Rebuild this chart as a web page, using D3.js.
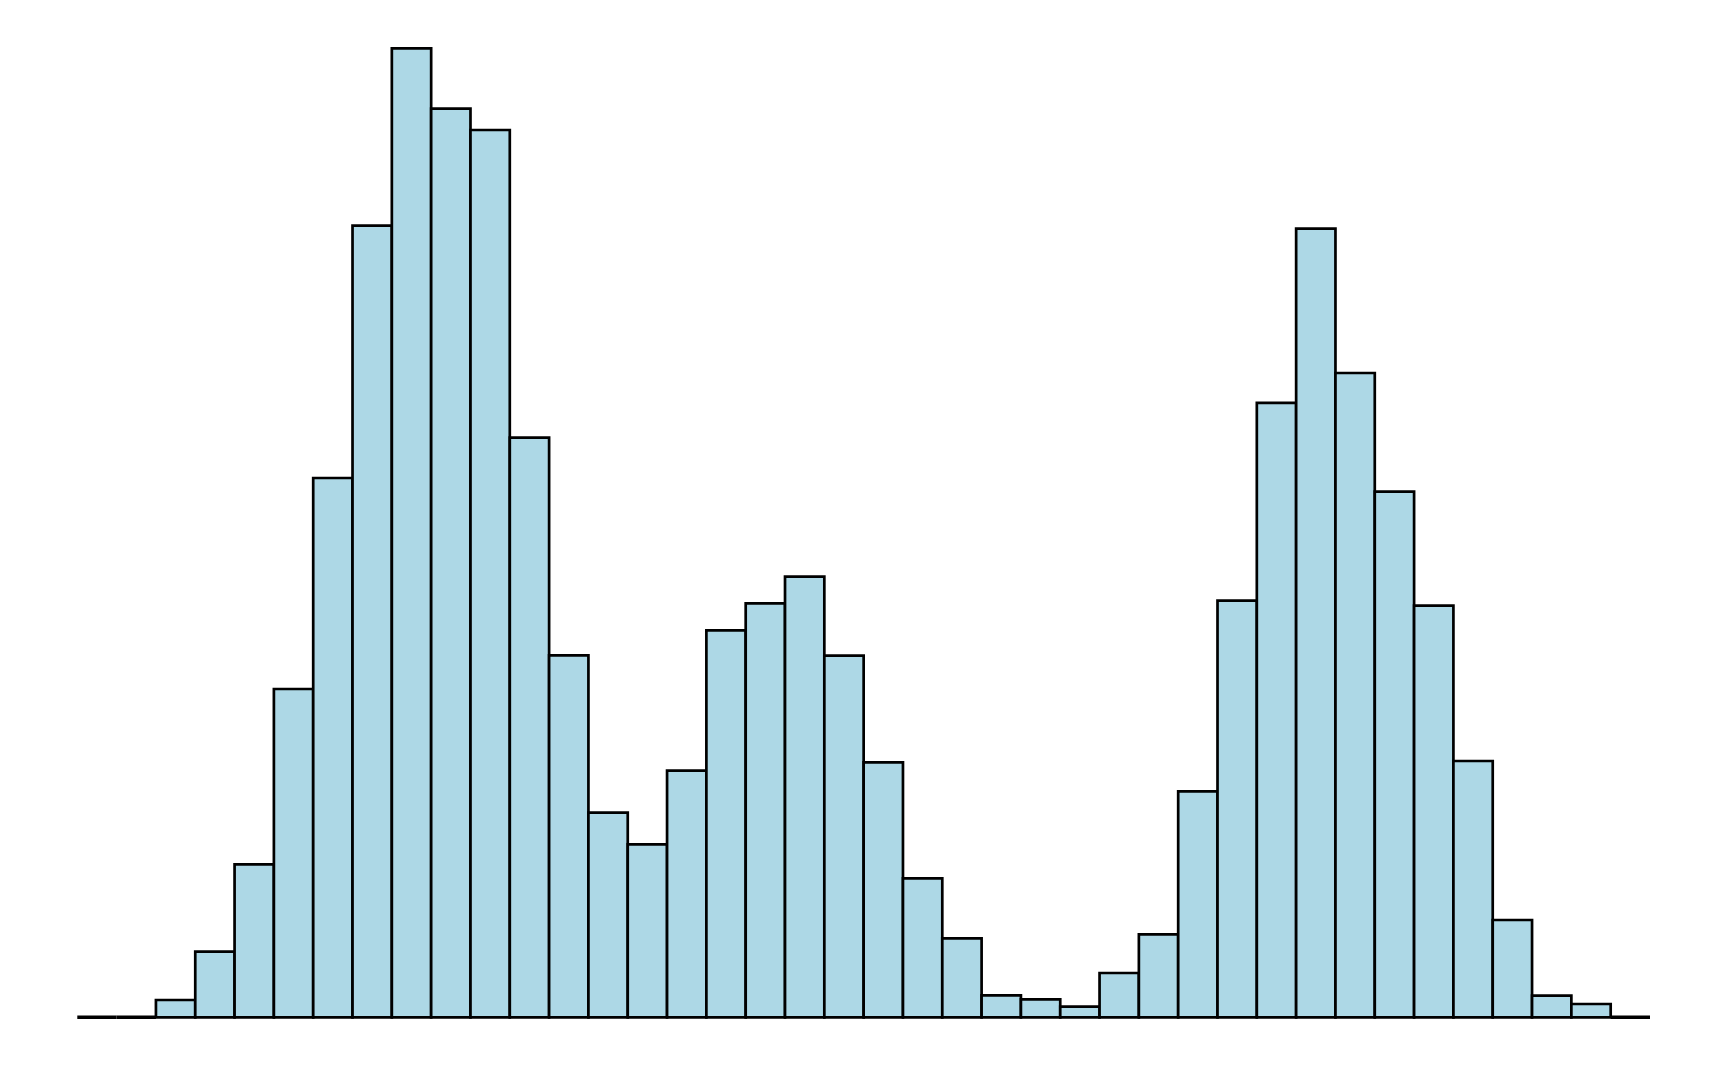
<!DOCTYPE html>
<html>
<head>
<meta charset="utf-8">
<script src="https://cdn.jsdelivr.net/npm/d3@7"></script>
<style>
  html, body { margin: 0; padding: 0; background: #ffffff; }
  svg { display: block; }
</style>
</head>
<body>
<svg id="chart" width="1728" height="1067"></svg>
<script>
// Histogram bin counts (relative heights), 40 equal-width bins
const counts = [
  0, 0, 17.3, 65.6, 153, 328.3, 539.3, 791.6, 969, 908.6,
  887.3, 579.6, 362, 204.6, 173, 246.6, 387, 414, 440.6, 361.6,
  255, 139, 79, 22, 18, 10.6, 44.3, 83, 226, 416.6,
  614.5, 788.6, 644.3, 525.7, 411.6, 256.3, 97.3, 21.6, 13.3, 0
];

const width = 1728, height = 1067;
const svg = d3.select("#chart");

const x = d3.scaleLinear()
  .domain([0, counts.length])
  .range([77.3, 1650]);

const y = d3.scaleLinear()
  .domain([0, 969])
  .range([1017.3, 48.3]);

const bins = counts.map((c, i) => ({ x0: i, x1: i + 1, count: c }));

svg.append("g")
  .selectAll("path")
  .data(bins)
  .join("path")
  .attr("d", d => {
    const p = d3.path();
    const xa = x(d.x0), xb = x(d.x1), yt = y(d.count), yb = y(0);
    p.moveTo(xa, yb);
    p.lineTo(xa, yt);
    p.lineTo(xb, yt);
    p.lineTo(xb, yb);
    p.closePath();
    return p.toString();
  })
  .attr("fill", "#ADD8E6")
  .attr("stroke", "#000000")
  .attr("stroke-width", d => d.count === 0 ? 3.5 : 2.7)
  .attr("stroke-linejoin", "miter");
</script>
</body>
</html>
